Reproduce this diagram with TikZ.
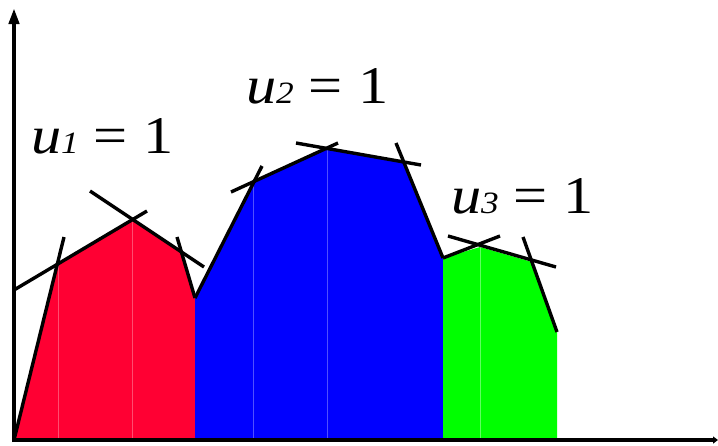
\documentclass[tikz,border=0pt]{standalone}
\usepackage{fontspec}
\setmainfont{Liberation Serif}
\usetikzlibrary{arrows.meta}
\definecolor{myred}{HTML}{FF0033}
\definecolor{myredl}{HTML}{FF4D70}
\definecolor{myblue}{HTML}{0000FF}
\definecolor{mybluel}{HTML}{5050FF}
\definecolor{mygreen}{HTML}{00FF00}
\definecolor{mygreenl}{HTML}{60FF60}
\tikzset{
  edge/.style={line width=3.4pt, black, line cap=butt},
  faint/.style={line width=0.8pt},
  lab/.style={anchor=base west, inner sep=0pt, outer sep=0pt},
  axis/.style={line width=4pt, black}
}
\newcommand{\ulab}[1]{\scalebox{1.14}[1]{\fontsize{53}{53}\selectfont\itshape u{\fontsize{31}{31}\selectfont #1}\upshape\ = 1}}
\begin{document}
\begin{tikzpicture}[x=1pt,y=-1pt]
\useasboundingbox (0,0) rectangle (718,445);
% vertices
\coordinate (O) at (14,440);
\coordinate (r1) at (58,263);
\coordinate (r2) at (132,220);
\coordinate (r3) at (182,252);
\coordinate (rb) at (195,298);
\coordinate (b1) at (252,183);
\coordinate (b2) at (327,148);
\coordinate (b3) at (405,163);
\coordinate (bg) at (443,258);
\coordinate (g1) at (480,247);
\coordinate (g2) at (532,262);
\coordinate (g3) at (557,332);
% fills
\fill[myred] (O) -- (r1) -- (r2) -- (r3) -- (rb) -- (195,440) -- cycle;
\fill[myblue] (rb) -- (b1) -- (b2) -- (b3) -- (bg) -- (443,440) -- (195,440) -- cycle;
\fill[mygreen] (bg) -- (g1) -- (g2) -- (g3) -- (557,440) -- (443,440) -- cycle;
% faint verticals
\draw[faint, myredl] (58,263) -- (58,440);
\draw[faint, myredl] (132,220) -- (132,440);
\draw[faint, mybluel] (253,183) -- (253,440);
\draw[faint, mybluel] (327,148) -- (327,440);
\draw[faint, mygreenl] (480,247) -- (480,440);
% tangent lines
\draw[edge] (O) -- (64,237);
\draw[edge] (14,290) -- (147,211);
\draw[edge] (90,191) -- (204,267);
\draw[edge] (177,237) -- (rb);
\draw[edge] (rb) -- (262,166);
\draw[edge] (231,192) -- (338,143);
\draw[edge] (296,143) -- (421,165);
\draw[edge] (396,143) -- (bg);
\draw[edge] (bg) -- (500,236);
\draw[edge] (448,236) -- (556,267);
\draw[edge] (523,237) -- (g3);
% axes
\draw[axis, -{Triangle[width=10pt,length=16pt]}] (14,442) -- (14,8);
\draw[axis, -{Triangle[width=7pt,length=5pt]}] (12,440) -- (718,440);
% labels
\node[lab] (l1) at (31,153) {\ulab{1}};
\node[lab] (l2) at (246,103) {\ulab{2}};
\node[lab] (l3) at (451,213) {\ulab{3}};
\end{tikzpicture}
\end{document}
